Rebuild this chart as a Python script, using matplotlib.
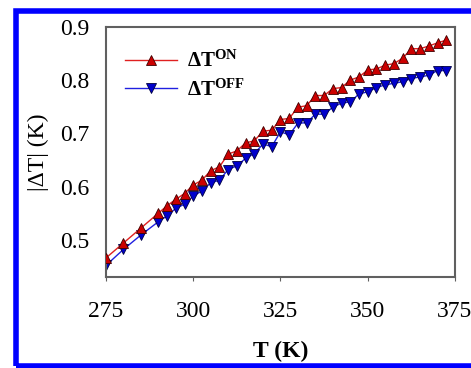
import matplotlib
matplotlib.use("Agg")
import matplotlib.pyplot as plt
from matplotlib.patches import Rectangle

# ─── data ─────────────────────────────────────────────────────────────────────
T = [275, 280, 285, 290, 292.5, 295, 297.5, 300, 302.5, 305, 307.5, 310, 312.5,
     315, 317.5, 320, 322.5, 325, 327.5, 330, 332.5, 335, 337.5, 340, 342.5,
     345, 347.5, 350, 352.5, 355, 357.5, 360, 362.5, 365, 367.5, 370, 372.5]

dT_on = [0.466, 0.494, 0.522, 0.550, 0.564, 0.576, 0.587, 0.603, 0.612, 0.630,
         0.637, 0.661, 0.667, 0.682, 0.686, 0.704, 0.706, 0.726, 0.728, 0.749,
         0.752, 0.771, 0.771, 0.784, 0.786, 0.800, 0.806, 0.819, 0.821, 0.828,
         0.831, 0.841, 0.859, 0.859, 0.864, 0.870, 0.875]

dT_off = [0.452, 0.482, 0.509, 0.534, 0.545, 0.559, 0.567, 0.582, 0.592, 0.607,
          0.612, 0.632, 0.639, 0.653, 0.662, 0.680, 0.675, 0.703, 0.697, 0.719,
          0.720, 0.736, 0.736, 0.749, 0.757, 0.759, 0.774, 0.778, 0.786, 0.791,
          0.794, 0.797, 0.803, 0.806, 0.809, 0.818, 0.818]

x_ticks = [275, 300, 325, 350, 375]
y_ticks = [0.5, 0.6, 0.7, 0.8, 0.9]

# ─── style ────────────────────────────────────────────────────────────────────
plt.rcParams["font.family"] = ["Liberation Serif", "DejaVu Serif"]
plt.rcParams["mathtext.fontset"] = "custom"
plt.rcParams["mathtext.rm"] = "Liberation Serif"
plt.rcParams["mathtext.bf"] = "Liberation Serif:bold"
plt.rcParams["mathtext.it"] = "Liberation Serif:italic"

C_AX = "#606060"

fig = plt.figure(figsize=(4.71, 3.68), dpi=100, facecolor="white")
ax = fig.add_axes([0.225, 0.247, 0.741, 0.680])

ax.plot(T, dT_on, color="#e02020", linewidth=1.0, marker="^", markersize=7.5,
        markerfacecolor="#cc0000", markeredgecolor="#400000", markeredgewidth=0.6,
        label=r"$\mathbf{\Delta T^{ON}}$", zorder=3)
ax.plot(T, dT_off, color="#2020e0", linewidth=1.0, marker="v", markersize=7.5,
        markerfacecolor="#0000cc", markeredgecolor="#000040", markeredgewidth=0.6,
        label=r"$\mathbf{\Delta T^{OFF}}$", zorder=2)

ax.set_xlim(275, 375)
ax.set_ylim(0.43, 0.9)
ax.set_xticks(x_ticks)
ax.set_yticks(y_ticks)
ax.set_yticklabels([f"{v:.1f}" for v in y_ticks])
ax.tick_params(axis="x", direction="out", length=3, color=C_AX, labelsize=17, pad=14)
ax.tick_params(axis="y", length=0, labelsize=17, pad=12)
for s in ax.spines.values():
    s.set_color(C_AX)
    s.set_linewidth(1.5)

ax.set_xlabel("T (K)", fontsize=17, fontweight="bold", labelpad=14)
ax.set_ylabel("|ΔT| (K)", fontsize=17, labelpad=8)

ax.legend(loc="upper left", frameon=False, fontsize=15, handlelength=2.5,
          handletextpad=0.5, labelspacing=0.35, bbox_to_anchor=(0.0, 0.98))

# blue frame around the figure
fig.patches.append(Rectangle((15.5 / 471, 1 - 366 / 368), 1.0, (366 - 11) / 368,
                             transform=fig.transFigure, fill=False,
                             edgecolor="#0000ff", linewidth=4, zorder=10))

fig.savefig("out.png", dpi=100, facecolor="white")
